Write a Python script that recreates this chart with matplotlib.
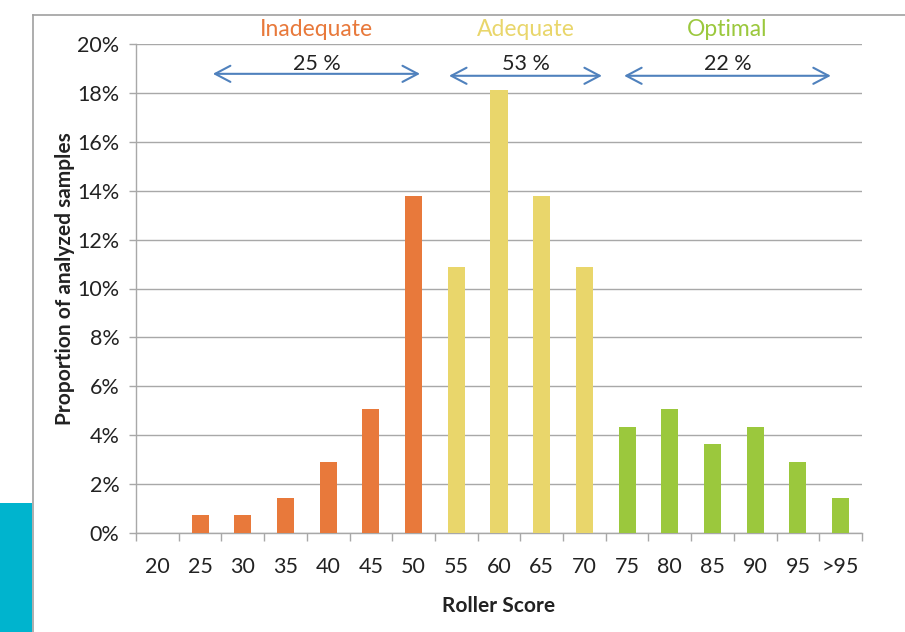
import matplotlib
matplotlib.use("Agg")
import matplotlib.pyplot as plt
from matplotlib.lines import Line2D
from matplotlib.patches import Rectangle
from matplotlib.ticker import FuncFormatter, MultipleLocator
import numpy as np

plt.rcParams['font.family'] = ['Lato', 'DejaVu Sans']

# Roller score bins and share of analysed samples (%)
scores = ["20", "25", "30", "35", "40", "45", "50", "55", "60", "65",
          "70", "75", "80", "85", "90", "95", ">95"]
share = [0.0, 0.72, 0.72, 1.45, 2.90, 5.07, 13.77, 10.87, 18.12, 13.77,
         10.87, 4.35, 5.07, 3.62, 4.35, 2.90, 1.45]
group = ["Inadequate"] * 7 + ["Adequate"] * 4 + ["Optimal"] * 6

group_names = ["Inadequate", "Adequate", "Optimal"]
group_totals = ["25 %", "53 %", "22 %"]
group_colors = {"Inadequate": "#E8793B", "Adequate": "#E9D66B", "Optimal": "#9BC83D"}

fig = plt.figure(figsize=(9.05, 6.32), dpi=100)
ax = fig.add_axes([136 / 905, 99 / 632, 726 / 905, 489 / 632])

x = np.arange(len(scores))
ax.bar(x, share, width=0.4, color=[group_colors[g] for g in group], zorder=3)

ax.set_xlim(-0.5, len(scores) - 0.5)
ax.set_ylim(0, 20)
ax.yaxis.set_major_locator(MultipleLocator(2))
ax.yaxis.set_major_formatter(FuncFormatter(lambda v, p: f"{v:.0f}%"))
ax.set_xticks(x)
ax.set_xticklabels(scores)
ax.set_xticks(np.arange(-0.5, len(scores), 1.0), minor=True)

grid_c = "#A8A8A8"
ax.grid(axis="y", color=grid_c, linewidth=1.0, zorder=0)
for s in ("top", "right"):
    ax.spines[s].set_visible(False)
for s in ("left", "bottom"):
    ax.spines[s].set_color(grid_c)
    ax.spines[s].set_linewidth(1.0)

ax.tick_params(axis="x", which="major", length=0, pad=17, labelsize=15.5, labelcolor="#222222")
ax.tick_params(axis="x", which="minor", length=5.5, width=1.0, color=grid_c)
ax.tick_params(axis="y", length=5, width=1.0, color=grid_c, pad=7, labelsize=15.5,
               labelcolor="#222222")

ax.set_ylabel("Proportion of analyzed samples", fontsize=15, fontweight="bold",
              color="#222222")
ax.yaxis.set_label_coords(-0.084, 0.52)
ax.set_xlabel("Roller Score", fontsize=15, fontweight="bold", color="#222222",
              labelpad=14)

# Range arrows with group name and share above the bars
spans = [(1.30, 6.15, 18.78), (6.83, 10.41, 18.70), (10.93, 15.77, 18.70)]
arrow_c = "#4F81BD"
for (x0, x1, yy), name, total in zip(spans, group_names, group_totals):
    ax.annotate("", xy=(x1, yy), xytext=(x0, yy),
                arrowprops=dict(arrowstyle="<->,head_length=1.1,head_width=0.58",
                                color=arrow_c, lw=1.5, shrinkA=0, shrinkB=0),
                annotation_clip=False)
    xm = (x0 + x1) / 2
    ax.text(xm, 19.2, total, ha="center", va="center", fontsize=15.5,
            color="#222222", clip_on=False)
    ax.text(xm, 20.6, name, ha="center", va="center", fontsize=16.5,
            color=group_colors[name], clip_on=False)

# Page frame and side tab
fw, fh = 905, 632
fig.add_artist(Line2D([32.5 / fw, 32.5 / fw], [0, 1 - 14.5 / fh],
                      transform=fig.transFigure, color="#A0A0A0", lw=1.2))
fig.add_artist(Line2D([32.5 / fw, 1], [1 - 14.5 / fh, 1 - 14.5 / fh],
                      transform=fig.transFigure, color="#A0A0A0", lw=1.2))
fig.add_artist(Rectangle((0, 0), 32 / fw, 129 / fh, transform=fig.transFigure,
                         color="#00B4CE", lw=0))

fig.savefig("out.png", dpi=100)
